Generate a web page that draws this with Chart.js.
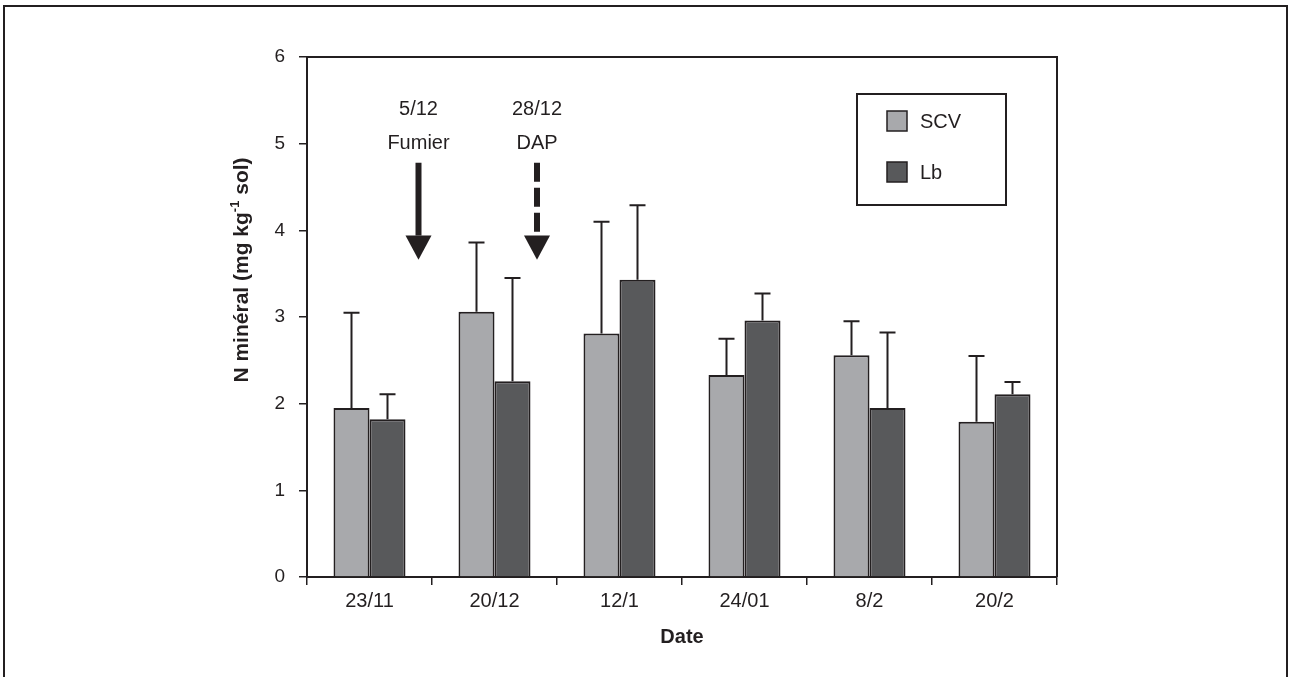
<!DOCTYPE html>
<html>
<head>
<meta charset="utf-8">
<script src="https://cdn.jsdelivr.net/npm/chart.js@4"></script>
<style>
  html, body { margin: 0; padding: 0; background: #fff; }
  #wrap { position: relative; width: 1291px; height: 677px; }
</style>
</head>
<body>
<div id="wrap"><canvas id="bar-chart" width="1291" height="677"></canvas></div>
<script>
// data
const categories = ["23/11", "20/12", "12/1", "24/01", "8/2", "20/2"];
const scvValues = [1.95, 3.06, 2.81, 2.33, 2.56, 1.79];
const lbValues = [1.82, 2.26, 3.43, 2.96, 1.95, 2.11];
const scvErr = [1.10, 0.80, 1.29, 0.42, 0.39, 0.76];
const lbErr = [0.29, 1.19, 0.86, 0.31, 0.87, 0.14];
const yTicks = [0, 1, 2, 3, 4, 5, 6];

const ink = "#231f20";
const fontFamily = "'Liberation Sans', Arial, Helvetica, sans-serif";

// frame, plot border, error bars, arrows, legend, y title
const decor = {
  id: "decor",
  beforeDraw(chart) {
    const ctx = chart.ctx;
    ctx.save();
    ctx.strokeStyle = ink;
    ctx.lineWidth = 2;
    ctx.beginPath();
    ctx.moveTo(4, 680);
    ctx.lineTo(4, 6);
    ctx.lineTo(1287, 6);
    ctx.lineTo(1287, 680);
    ctx.stroke();
    ctx.restore();
  },
  afterDatasetsDraw(chart) {
    const ctx = chart.ctx;
    const xs = chart.scales.x, ys = chart.scales.y;
    const area = chart.chartArea;
    ctx.save();

    // plot frame (top + right)
    ctx.strokeStyle = ink;
    ctx.lineWidth = 2;
    ctx.beginPath();
    ctx.moveTo(area.left, area.top);
    ctx.lineTo(area.right, area.top);
    ctx.lineTo(area.right, area.bottom);
    ctx.stroke();

    // error bars (upper only)
    const errs = [scvErr, lbErr];
    chart.data.datasets.forEach((ds, di) => {
      const meta = chart.getDatasetMeta(di);
      meta.data.forEach((el, i) => {
        const top = ys.getPixelForValue(ds.data[i] + errs[di][i]);
        ctx.beginPath();
        ctx.moveTo(el.x, el.y);
        ctx.lineTo(el.x, top);
        ctx.moveTo(el.x - 8, top);
        ctx.lineTo(el.x + 8, top);
        ctx.stroke();
      });
    });

    // application arrows
    const arrows = [
      { at: 0.392, date: "5/12", label: "Fumier", dashed: false },
      { at: 1.34, date: "28/12", label: "DAP", dashed: true }
    ];
    ctx.fillStyle = ink;
    ctx.font = "20px " + fontFamily;
    ctx.textAlign = "center";
    ctx.textBaseline = "middle";
    arrows.forEach(a => {
      const x = xs.getPixelForValue(a.at);
      ctx.fillText(a.date, x, ys.getPixelForValue(5.4));
      ctx.fillText(a.label, x, ys.getPixelForValue(5.0));
      const y0 = ys.getPixelForValue(4.78);
      const yHead = ys.getPixelForValue(3.94);
      const yTip = ys.getPixelForValue(3.66);
      ctx.lineWidth = 6;
      ctx.setLineDash(a.dashed ? [19, 6] : []);
      ctx.beginPath();
      ctx.moveTo(x, y0);
      ctx.lineTo(x, yHead);
      ctx.stroke();
      ctx.setLineDash([]);
      ctx.beginPath();
      ctx.moveTo(x - 13, yHead);
      ctx.lineTo(x + 13, yHead);
      ctx.lineTo(x, yTip);
      ctx.closePath();
      ctx.fill();
    });

    // legend box
    ctx.lineWidth = 2;
    ctx.strokeRect(857, 94, 149, 111);
    chart.data.datasets.forEach((ds, di) => {
      const y = 111 + di * 51;
      ctx.fillStyle = ds.backgroundColor;
      ctx.fillRect(887, y, 20, 20);
      ctx.lineWidth = 1.5;
      ctx.strokeRect(887, y, 20, 20);
      ctx.fillStyle = ink;
      ctx.textAlign = "left";
      ctx.fillText(ds.label, 920, y + 11);
    });

    // y axis title with superscript
    const parts = [
      { t: "N minéral (mg kg", f: "bold 21px " + fontFamily, dy: 0 },
      { t: "-1", f: "bold 13px " + fontFamily, dy: -7 },
      { t: " sol)", f: "bold 21px " + fontFamily, dy: 0 }
    ];
    let total = 0;
    parts.forEach(p => { ctx.font = p.f; p.w = ctx.measureText(p.t).width; total += p.w; });
    ctx.translate(242, 270);
    ctx.rotate(-Math.PI / 2);
    ctx.textAlign = "left";
    ctx.textBaseline = "middle";
    ctx.fillStyle = ink;
    let cx = -total / 2;
    parts.forEach(p => {
      ctx.font = p.f;
      ctx.fillText(p.t, cx, p.dy);
      cx += p.w;
    });
    ctx.restore();
  }
};

const barChart = new Chart(document.getElementById("bar-chart"), {
  type: "bar",
  data: {
    labels: categories,
    datasets: [{
      label: "SCV",
      data: scvValues,
      backgroundColor: "#a8a9ac",
      borderColor: ink,
      borderWidth: 2,
      categoryPercentage: 0.576,
      barPercentage: 1.0
    }, {
      label: "Lb",
      data: lbValues,
      backgroundColor: "#58595b",
      borderColor: ink,
      borderWidth: 2,
      categoryPercentage: 0.576,
      barPercentage: 1.0
    }]
  },
  options: {
    responsive: false,
    devicePixelRatio: 1,
    animation: false,
    layout: { padding: { left: 232, top: 57, right: 234, bottom: 28 } },
    plugins: { legend: { display: false }, tooltip: { enabled: false } },
    scales: {
      x: {
        grid: { offset: true, drawOnChartArea: false, tickLength: 8, color: ink, lineWidth: 1.5 },
        border: { color: ink, width: 2 },
        ticks: { color: ink, font: { family: fontFamily, size: 20 }, padding: 4, maxRotation: 0, autoSkip: false },
        title: { display: true, text: "Date", color: ink, font: { family: fontFamily, size: 20, weight: "bold" }, padding: 0 },
        afterFit: s => { s.height = 72; }
      },
      y: {
        min: 0,
        max: 6,
        afterBuildTicks: s => { s.ticks = yTicks.map(v => ({ value: v })); },
        grid: { drawOnChartArea: false, tickLength: 8, color: ink, lineWidth: 1.5 },
        border: { color: ink, width: 2 },
        ticks: { color: ink, font: { family: fontFamily, size: 19 }, padding: 14 },
        afterFit: s => { s.width = 75; }
      }
    }
  },
  plugins: [decor]
});
</script>
</body>
</html>
